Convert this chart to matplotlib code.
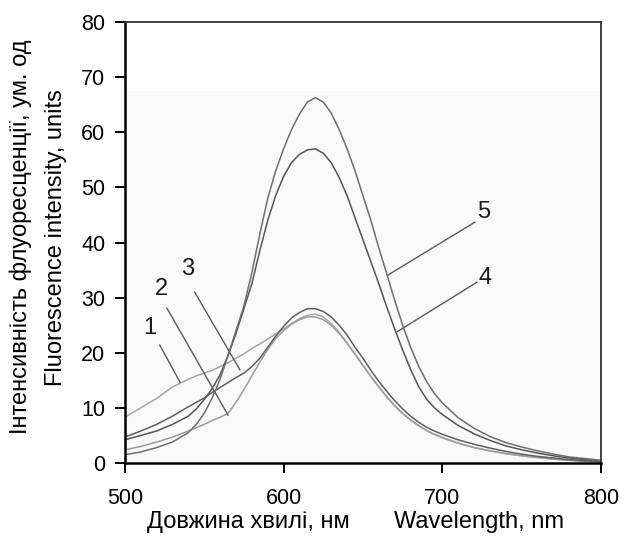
import matplotlib
matplotlib.use("Agg")
import matplotlib.pyplot as plt

plt.rcParams["font.family"] = ["Liberation Sans", "DejaVu Sans"]

# wavelength grid, nm
wavelength = [500, 510, 520, 530, 540, 545, 550, 555, 560, 565, 570, 575, 580, 585,
              590, 595, 600, 605, 610, 615, 620, 625, 630, 635, 640, 645, 650, 655,
              660, 665, 670, 675, 680, 685, 690, 695, 700, 710, 720, 730, 740, 750,
              760, 770, 780, 790, 800]

# fluorescence intensity
curve_1 = [8.3, 10.0, 11.7, 13.8, 15.2, 15.8, 16.3, 16.8, 17.5, 18.2, 19.0, 19.8, 20.8, 21.6,
           22.5, 23.4, 24.3, 25.3, 26.2, 26.8, 27.0, 26.5, 25.3, 23.7, 21.8, 19.8, 17.7, 15.7,
           13.8, 12.0, 10.4, 9.0, 7.8, 6.8, 5.9, 5.2, 4.6, 3.6, 2.8, 2.2, 1.7, 1.3,
           1.0, 0.7, 0.5, 0.3, 0.2]
curve_2 = [2.4, 3.0, 3.8, 4.7, 5.8, 6.4, 7.0, 7.7, 8.3, 9.0, 11.0, 13.3, 15.8, 18.3,
           20.6, 22.6, 24.0, 25.2, 26.0, 26.5, 26.5, 26.0, 25.0, 23.5, 21.7, 19.7, 17.7, 15.7,
           13.8, 12.0, 10.4, 9.0, 7.8, 6.8, 5.9, 5.2, 4.6, 3.6, 2.8, 2.2, 1.7, 1.3,
           1.0, 0.7, 0.5, 0.3, 0.2]
curve_3 = [4.7, 5.8, 7.0, 8.5, 10.2, 11.0, 11.8, 12.8, 13.7, 14.6, 15.5, 16.3, 17.5, 19.0,
           21.0, 23.0, 24.8, 26.3, 27.3, 28.0, 28.0, 27.5, 26.5, 25.0, 23.2, 21.0, 19.0, 16.8,
           14.8, 13.0, 11.3, 9.8, 8.5, 7.4, 6.5, 5.8, 5.2, 4.2, 3.4, 2.7, 2.1, 1.6,
           1.2, 0.9, 0.6, 0.4, 0.3]
curve_4 = [4.2, 5.0, 5.8, 7.0, 8.5, 9.8, 11.5, 13.5, 16.0, 19.5, 23.5, 28.0, 32.5, 38.5,
           44.0, 48.5, 52.0, 54.5, 56.0, 56.8, 57.0, 56.2, 54.5, 51.8, 48.5, 44.5, 40.5, 36.5,
           32.5, 28.3, 24.3, 20.5, 17.0, 13.9, 11.6, 10.0, 8.8, 6.8, 5.3, 4.1, 3.1, 2.4,
           1.8, 1.3, 0.9, 0.6, 0.4]
curve_5 = [1.5, 2.0, 2.8, 3.8, 5.5, 7.0, 9.0, 11.8, 15.2, 19.5, 24.0, 28.5, 34.5, 41.5,
           48.0, 53.0, 57.0, 60.5, 63.3, 65.5, 66.3, 65.5, 63.5, 60.5, 57.0, 53.0, 48.5, 44.0,
           39.0, 34.3, 29.5, 25.0, 21.0, 17.6, 14.8, 12.6, 10.9, 8.2, 6.3, 4.8, 3.7, 2.9,
           2.2, 1.6, 1.1, 0.8, 0.5]

curves = [curve_1, curve_2, curve_3, curve_4, curve_5]
curve_colors = ["#a6a6a6", "#9c9c9c", "#5e5e5e", "#555555", "#6e6e6e"]

# curve labels: (label, text position, leader start, leader end)
labels = ["1", "2", "3", "4", "5"]
label_pos = [(515.5, 24.5), (523.0, 31.6), (539.5, 35.2), (727.0, 33.6), (726.0, 45.6)]
leader_start = [(522.0, 21.4), (526.5, 28.1), (544.0, 31.0), (721.8, 32.8), (720.5, 43.7)]
leader_end = [(534.7, 14.7), (565.0, 8.7), (572.5, 16.9), (671.4, 23.8), (665.7, 34.1)]

x_ticks = [500, 600, 700, 800]
y_ticks = [0, 10, 20, 30, 40, 50, 60, 70, 80]

fig = plt.figure(figsize=(6.21, 5.39), dpi=100)
ax = fig.add_axes([0.201, 0.141, 0.767, 0.818])

ax.axhspan(0, 67.5, color="#f9f9f9", zorder=0, lw=0)

for values, color in zip(curves, curve_colors):
    ax.plot(wavelength, values, color=color, linewidth=1.1, zorder=2)

for lab, pos, start, end in zip(labels, label_pos, leader_start, leader_end):
    ax.text(pos[0], pos[1], lab, fontsize=17, ha="center", va="center", color="#1a1a1a")
    ax.plot([start[0], end[0]], [start[1], end[1]], color="#5a5a5a", linewidth=1.0, zorder=3)

ax.set_xlim(500, 800)
ax.set_ylim(0, 80)
ax.set_xticks(x_ticks)
ax.set_yticks(y_ticks)
ax.tick_params(direction="out", length=7, width=1.4, labelsize=15.5)
ax.tick_params(axis="x", pad=11)
ax.tick_params(axis="y", pad=7)

for side in ["left", "bottom"]:
    ax.spines[side].set_linewidth(1.8)
    ax.spines[side].set_color("black")
for side in ["top", "right"]:
    ax.spines[side].set_linewidth(1.3)
    ax.spines[side].set_color("#333333")

fig.text(0.034, 0.56, "Інтенсивність флуоресценції, ум. од", rotation=90,
         ha="center", va="center", fontsize=17)
fig.text(0.090, 0.56, "Fluorescence intensity, units", rotation=90,
         ha="center", va="center", fontsize=17)
fig.text(0.40, 0.032, "Довжина хвилі, нм", ha="center", va="center", fontsize=17)
fig.text(0.771, 0.032, "Wavelength, nm", ha="center", va="center", fontsize=17)

fig.savefig("out.png", dpi=100)
plt.close(fig)
